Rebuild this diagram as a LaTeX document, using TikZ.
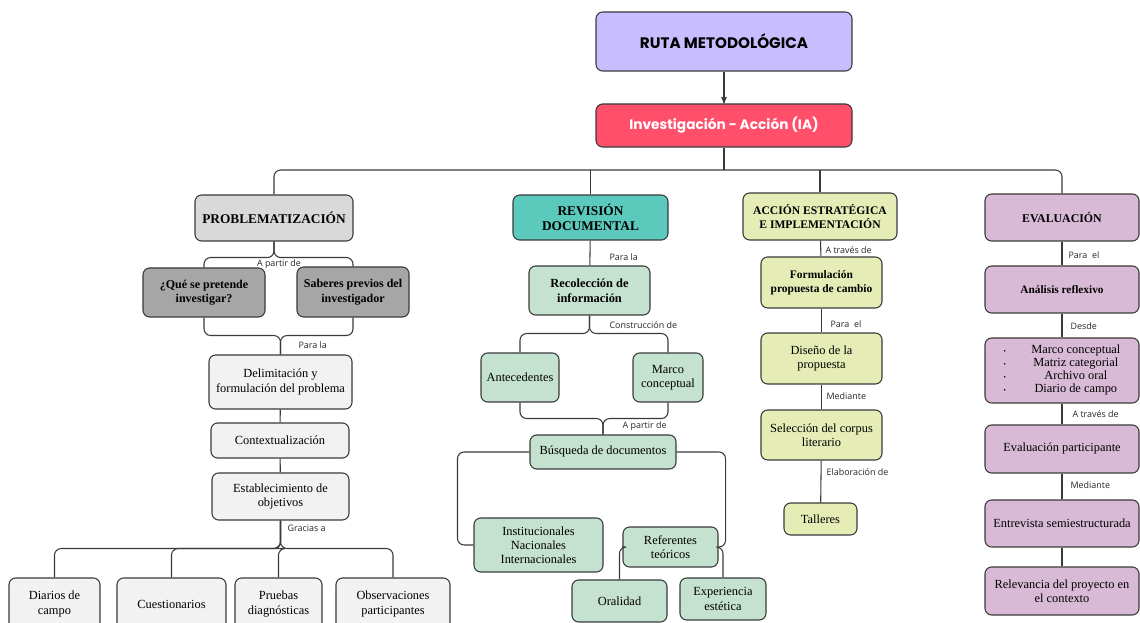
\documentclass[tikz,border=0pt]{standalone}
\usepackage{xcolor}
\usepackage{fontspec}
\setmainfont{Liberation Serif}
\newfontfamily\popfont{Poppins}
\newfontfamily\lblfont{Open Sans}
\usepackage{tikz}
\usetikzlibrary{calc}
\usetikzlibrary{arrows}
\definecolor{rutacol}{HTML}{C7BDFF}
\definecolor{iacol}{HTML}{FF4F6B}
\definecolor{grisA}{HTML}{D9D9D9}
\definecolor{grisB}{HTML}{A6A6A6}
\definecolor{grisC}{HTML}{F2F2F2}
\definecolor{tealcol}{HTML}{5BC9BB}
\definecolor{verdecol}{HTML}{C5E1CF}
\definecolor{limacol}{HTML}{E5ECB6}
\definecolor{malvacol}{HTML}{D9BAD6}
\definecolor{trazo}{HTML}{3A3A3A}
\tikzset{
 box/.style={draw=trazo, line width=.8pt, rounded corners=5pt, inner sep=0pt, align=center,
  font=\fontsize{9.3}{10.6}\selectfont},
 head/.style={box, font=\fontsize{10}{11.5}\selectfont\bfseries},
 wh/.style 2 args={minimum width=#1*.75pt, minimum height=#2*.75pt},
 link/.style={draw=trazo, line width=.8pt, rounded corners=5pt},
 lbl/.style={font=\lblfont\fontsize{6.7}{7.5}\selectfont, inner sep=1pt, text=black!85, anchor=west},
}

\begin{document}
\begin{tikzpicture}[x=.75pt, y=-.75pt]
\useasboundingbox (0,0) rectangle (1140,623);
\node[box, fill=rutacol, font=\popfont\fontsize{11.4}{13}\selectfont\bfseries, wh={256}{59}] (ruta) at (724,41.5) {RUTA METODOLÓGICA};
\node[box, fill=iacol, text=white, font=\popfont\fontsize{10.3}{12}\selectfont\bfseries, wh={256}{43}] (ia) at (724,125.5) {Investigación - Acción (IA)};
\coordinate (hub) at (724,170);

\node[head, fill=grisA, wh={158}{46}] (prob) at (274,218) {PROBLEMATIZACIÓN};
\node[head, fill=tealcol, wh={155}{45}] (rev) at (590.5,217.5) {REVISIÓN\\DOCUMENTAL};
\node[head, fill=limacol, font=\fontsize{8.7}{10}\selectfont\bfseries, wh={154}{47}] (acc) at (820,216.5) {ACCIÓN ESTRATÉGICA\\E IMPLEMENTACIÓN};
\node[head, fill=malvacol, font=\fontsize{8.9}{10}\selectfont\bfseries, wh={154}{47}] (eva) at (1062,217.5) {EVALUACIÓN};

% problematizacion
\node[box, fill=grisB, font=\fontsize{9}{11}\selectfont\bfseries, wh={122}{49}] (q1) at (204,292.5) {¿Qué se pretende\\investigar?};
\node[box, fill=grisB, font=\fontsize{9}{11}\selectfont\bfseries, wh={112}{50}] (sab) at (353,292) {Saberes previos del\\investigador};
\node[box, fill=grisC, wh={143}{54}] (deli) at (280.5,382) {Delimitación y\\formulación del problema};
\node[box, fill=grisC, wh={138}{35}] (ctx) at (280,440.5) {Contextualización};
\node[box, fill=grisC, wh={137}{47}] (estab) at (280.5,496.5) {Establecimiento de\\objetivos};
\node[box, fill=grisC, wh={91}{52}] (d1) at (54.5,604) {Diarios de\\campo};
\node[box, fill=grisC, wh={109}{52}] (d2) at (171.5,604) {Cuestionarios};
\node[box, fill=grisC, wh={87}{52}] (d3) at (278.5,604) {Pruebas\\diagnósticas};
\node[box, fill=grisC, wh={114}{52}] (d4) at (393,604) {Observaciones\\participantes};

% revision documental
\node[box, fill=verdecol, font=\fontsize{9.3}{11}\selectfont\bfseries, wh={121}{49}] (rec) at (589.5,290.5) {Recolección de\\información};
\node[box, fill=verdecol, wh={78}{49}] (ante) at (520,377.5) {Antecedentes};
\node[box, fill=verdecol, wh={70}{49}] (marco) at (668,377.5) {Marco\\conceptual};
\node[box, fill=verdecol, wh={146}{34}] (bus) at (603,452) {Búsqueda de documentos};
\node[box, fill=verdecol, wh={129}{54}] (inst) at (538.5,545) {Institucionales\\Nacionales\\Internacionales};
\node[box, fill=verdecol, wh={95}{40}] (ref) at (670.5,547) {Referentes\\teóricos};
\node[box, fill=verdecol, wh={95}{42}] (oral) at (619.5,601) {Oralidad};
\node[box, fill=verdecol, wh={86}{42}] (expe) at (723,599) {Experiencia\\estética};

% accion
\node[box, fill=limacol, font=\fontsize{8.6}{10.5}\selectfont\bfseries, wh={121}{51}] (form) at (821.5,282.5) {Formulación\\propuesta de cambio};
\node[box, fill=limacol, wh={121}{51}] (dis) at (821.5,358.5) {Diseño de la\\propuesta};
\node[box, fill=limacol, wh={121}{50}] (sel) at (821.5,435) {Selección del corpus\\literario};
\node[box, fill=limacol, wh={73}{32}] (tall) at (820.5,519) {Talleres};

% evaluacion
\node[box, fill=malvacol, font=\fontsize{8.5}{10}\selectfont\bfseries, wh={154}{47}] (ana) at (1062,289.5) {Análisis reflexivo};
\node[box, fill=malvacol, wh={154}{65}] (lista) at (1062,370.5) {\fontsize{9.3}{9.8}\selectfont
 \begin{tabular}{@{}l@{\hspace{19pt}}c@{}}
 {\tiny\textbullet} & Marco conceptual\\
 {\tiny\textbullet} & Matriz categorial\\
 {\tiny\textbullet} & Archivo oral\\
 {\tiny\textbullet} & Diario de campo
 \end{tabular}};
\node[box, fill=malvacol, wh={154}{48}] (evp) at (1062,449) {Evaluación participante};
\node[box, fill=malvacol, wh={154}{47}] (entr) at (1062,523.5) {Entrevista semiestructurada};
\node[box, fill=malvacol, wh={154}{48}] (relv) at (1062,591) {Relevancia del proyecto en\\el contexto};

% conectores
\draw[link, ->, >=stealth'] (ruta.south) -- (ia.north);
\draw[link] (ia.south) -- (hub);
\draw[link] (prob.north) |- (eva.north |- hub) -- (eva.north);
\draw[link] (rev.north) -- (rev.north |- hub);
\draw[link] (acc.north) -- (acc.north |- hub);

\draw[link] (prob.south) -- ++(0,16) -| (q1.north);
\draw[link] (prob.south) -- ++(0,16) -| (sab.north);
\draw[link] (q1.south) -- ++(0,18) -| (deli.north);
\draw[link] (sab.south) -- ++(0,18) -| (deli.north);
\draw[link] (deli) -- (ctx);
\draw[link] (ctx) -- (estab);
\foreach \d in {d1,d2,d3,d4}
 \draw[link] (estab.south) -- ++(0,28) -| (\d.north);

\draw[link] (rev) -- (rec);
\draw[link] (rec.south) -- ++(0,18) -| (ante.north);
\draw[link] (rec.south) -- ++(0,18) -| (marco.north);
\draw[link] (ante.south) -- ++(0,16) -| (bus.north);
\draw[link] (marco.south) -- ++(0,16) -| (bus.north);
\draw[link] (bus.west) -| ($(inst.west)+(-16,0)$) -- (inst.west);
\draw[link] (bus.east) -| ($(ref.east)+(7,0)$) -- (ref.east);
\draw[link] (ref.west) -| (oral.north);
\draw[link] (ref.east) -| (expe.north);

\draw[link] (acc) -- (form);
\draw[link] (form) -- (dis);
\draw[link] (dis) -- (sel);
\draw[link] (sel) -- (tall);

\draw[link] (eva) -- (ana);
\draw[link] (ana) -- (lista);
\draw[link] (lista) -- (evp);
\draw[link] (evp) -- (entr);
\draw[link] (entr) -- (relv);

% etiquetas
\node[lbl, anchor=center] (l1) at (279,264) {A partir de};
\node[lbl] (l2) at (297,345) {Para la};
\node[lbl] (l3) at (286,528) {Gracias a};
\node[lbl] (l4) at (608,257) {Para la};
\node[lbl] (l5) at (608,325) {Construcción de};
\node[lbl] (l6) at (621,426) {A partir de};
\node[lbl] (l7) at (824,250) {A través de};
\node[lbl] (l8) at (829,324) {Para~~el};
\node[lbl] (l9) at (825,396) {Mediante};
\node[lbl] (l10) at (825,472) {Elaboración de};
\node[lbl] (l11) at (1067,255) {Para~~el};
\node[lbl] (l12) at (1069,326) {Desde};
\node[lbl] (l13) at (1071,414) {A través de};
\node[lbl] (l14) at (1069,485) {Mediante};
\end{tikzpicture}
\end{document}
